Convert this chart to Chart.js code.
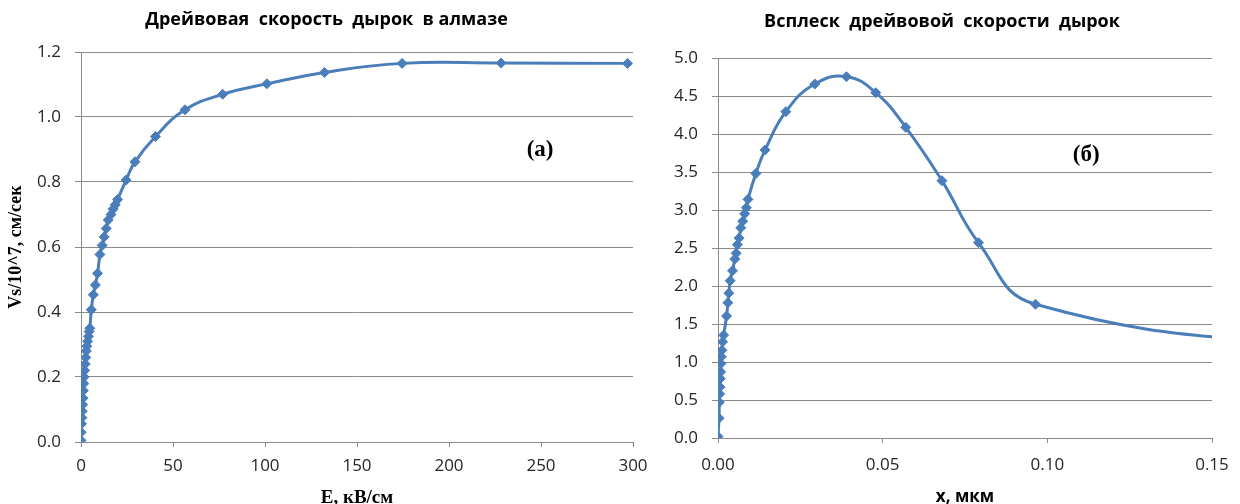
<!DOCTYPE html>
<html>
<head>
<meta charset="utf-8">
<script src="https://cdn.jsdelivr.net/npm/chart.js@4.4.1/dist/chart.umd.min.js"></script>
<style>
  html, body { margin: 0; padding: 0; background: #ffffff; overflow: hidden; }
  #wrap { position: relative; width: 1240px; height: 504px; overflow: hidden; }
  .box { position: absolute; top: 0; height: 520px; }
  #boxA { left: 0; width: 660px; }
  #boxB { left: 640px; width: 600px; }
</style>
</head>
<body>
<div id="wrap">
  <div class="box" id="boxA"><canvas id="chartA"></canvas></div>
  <div class="box" id="boxB"><canvas id="chartB"></canvas></div>
</div>
<script>
// (а) Drift velocity of holes in diamond vs field strength
const fieldE = [0, 0.1, 0.3, 0.5, 0.7, 0.9, 1.1, 1.3, 1.5, 1.7, 2.0, 2.3, 2.6, 2.9, 3.2, 3.6, 4.0, 4.4, 4.8,
                5.6, 6.7, 7.8, 9.0, 10.3, 11.5, 12.6, 13.7, 14.8, 16.3, 17.5, 18.6, 19.9, 24.5, 29.3, 40.5,
                56.5, 77, 101, 132.3, 174.5, 228.3, 297];
const driftV = [0.005, 0.03, 0.056, 0.075, 0.095, 0.115, 0.135, 0.158, 0.18, 0.2, 0.22, 0.24, 0.26, 0.28,
                0.295, 0.31, 0.325, 0.34, 0.35, 0.407, 0.453, 0.483, 0.519, 0.577, 0.605, 0.631, 0.657,
                0.683, 0.70, 0.717, 0.73, 0.746, 0.806, 0.862, 0.94, 1.022, 1.07, 1.102, 1.137, 1.165,
                1.166, 1.165];

// (б) Velocity overshoot vs distance
const distX = [0, 0.0003, 0.0004, 0.0005, 0.0006, 0.0007, 0.0008, 0.0009, 0.0010, 0.0012, 0.0014, 0.0017,
               0.0026, 0.0030, 0.0033, 0.0037, 0.0044, 0.0051, 0.0055, 0.0059, 0.0064, 0.0069, 0.0075,
               0.0081, 0.0086, 0.0091, 0.0115, 0.0143, 0.0206, 0.0294, 0.0390, 0.0479, 0.0570, 0.0680,
               0.0791, 0.0964, 0.2000];
const overV = [0.02, 0.26, 0.47, 0.58, 0.67, 0.78, 0.87, 0.98, 1.07, 1.155, 1.265, 1.354,
               1.605, 1.78, 1.905, 2.07, 2.2, 2.355, 2.43, 2.544, 2.63, 2.765, 2.853,
               2.95, 3.03, 3.14, 3.48, 3.79, 4.294, 4.658, 4.754, 4.544, 4.088, 3.386,
               2.57, 1.76, 1.10];

// tick values
const ticksAX = [0, 50, 100, 150, 200, 250, 300];
const ticksAY = [0, 0.2, 0.4, 0.6, 0.8, 1.0, 1.2];
const ticksBX = [0, 0.05, 0.10, 0.15];
const ticksBY = [0, 0.5, 1.0, 1.5, 2.0, 2.5, 3.0, 3.5, 4.0, 4.5, 5.0];

const BLUE = '#4a7ebb';
const GRID = '#8a8a8a';
const TICK_FONT = { family: 'Open Sans', size: 17 };
const TICK_COLOR = '#262626';

// text label placed at data coordinates inside the plot
const panelLabel = {
  id: 'panelLabel',
  afterDatasetsDraw(chart, args, opts) {
    const { ctx, scales } = chart;
    ctx.save();
    ctx.font = opts.font;
    ctx.fillStyle = '#000';
    ctx.textAlign = 'center';
    ctx.textBaseline = 'middle';
    ctx.fillText(opts.text, scales.x.getPixelForValue(opts.x), scales.y.getPixelForValue(opts.y));
    ctx.restore();
  }
};

function fixScale(size, horizontal) {
  return function (scale) {
    if (horizontal) scale.height = size; else scale.width = size;
    scale.paddingTop = 0; scale.paddingBottom = 0;
    scale.paddingLeft = 0; scale.paddingRight = 0;
  };
}

function setTicks(values) {
  return function (scale) { scale.ticks = values.map(v => ({ value: v })); };
}

function makeChart(id, cfg) {
  const pts = cfg.xs.map((x, i) => ({ x: x, y: cfg.ys[i] }));
  return new Chart(document.getElementById(id), {
    type: 'scatter',
    data: {
      datasets: [{
        data: pts,
        showLine: true,
        tension: 0.45,
        borderColor: BLUE,
        borderWidth: 3,
        backgroundColor: BLUE,
        pointStyle: 'rectRot',
        pointRadius: 5,
        pointBorderWidth: 1,
        pointBorderColor: BLUE,
        pointBackgroundColor: BLUE
      }]
    },
    plugins: [panelLabel],
    options: {
      responsive: true,
      maintainAspectRatio: false,
      animation: false,
      layout: { padding: { left: cfg.padLeft, top: 0, right: cfg.padRight, bottom: 0 } },
      plugins: {
        legend: { display: false },
        tooltip: { enabled: false },
        title: {
          display: true,
          text: cfg.title,
          color: '#000',
          font: { family: 'Open Sans', size: 18, weight: 'bold' },
          padding: cfg.titlePad
        },
        panelLabel: cfg.label
      },
      scales: {
        x: {
          type: 'linear',
          min: cfg.xMin, max: cfg.xMax,
          afterBuildTicks: setTicks(cfg.xTicks),
          afterFit: fixScale(cfg.xScaleH, true),
          grid: { drawOnChartArea: false, drawTicks: true, tickLength: 5, color: GRID },
          border: { display: true, color: GRID, width: 1 },
          ticks: {
            color: TICK_COLOR, font: TICK_FONT, padding: cfg.xTickPad, maxRotation: 0,
            callback: v => v.toFixed(cfg.xDigits)
          },
          title: {
            display: true, text: cfg.xTitle, color: '#000',
            font: cfg.xTitleFont, padding: { top: 0, bottom: cfg.xTitlePad }
          }
        },
        y: {
          type: 'linear',
          min: cfg.yMin, max: cfg.yMax,
          afterBuildTicks: setTicks(cfg.yTicks),
          afterFit: fixScale(cfg.yScaleW, false),
          grid: { color: GRID, lineWidth: 1, drawTicks: true, tickLength: 6 },
          border: { display: true, color: GRID, width: 1 },
          ticks: {
            color: TICK_COLOR, font: TICK_FONT, padding: 14,
            callback: v => v.toFixed(1)
          },
          title: {
            display: !!cfg.yTitle, text: cfg.yTitle || '', color: '#000',
            font: { family: 'Liberation Serif', size: 18, weight: 'bold' },
            padding: { top: cfg.yTitleOffset, bottom: 0 }
          }
        }
      }
    }
  });
}

makeChart('chartA', {
  xs: fieldE, ys: driftV,
  title: 'Дрейвовая  скорость  дырок  в алмазе',
  titlePad: { top: 9, bottom: 21.4 },
  padLeft: 20, padRight: 27,
  xMin: 0, xMax: 300, xTicks: ticksAX, xDigits: 0, xTickPad: 9,
  yMin: 0, yMax: 1.2, yTicks: ticksAY,
  xScaleH: 78, yScaleW: 61,
  xTitle: 'E, кВ/см', xTitlePad: 10.5,
  xTitleFont: { family: 'Liberation Serif', size: 19, weight: 'bold' },
  yTitle: 'Vs/10^7, см/сек', yTitleOffset: -14,
  label: { text: '(a)', x: 249.5, y: 0.898, font: 'bold 23px "Liberation Serif"' }
});

makeChart('chartB', {
  xs: distX, ys: overV,
  title: 'Всплеск  дрейвовой  скорости  дырок',
  titlePad: { top: 11.2, bottom: 25.2 },
  padLeft: 32, padRight: 28,
  xMin: 0, xMax: 0.15, xTicks: ticksBX, xDigits: 2, xTickPad: 12,
  yMin: 0, yMax: 5, yTicks: ticksBY,
  xScaleH: 82, yScaleW: 46,
  xTitle: 'x, мкм', xTitlePad: 12.8,
  xTitleFont: { family: 'Open Sans', size: 17, weight: 'bold' },
  yTitle: null, yTitleOffset: 0,
  label: { text: '(б)', x: 0.1118, y: 3.72, font: 'bold 23px "Liberation Serif"' }
});
</script>
</body>
</html>
